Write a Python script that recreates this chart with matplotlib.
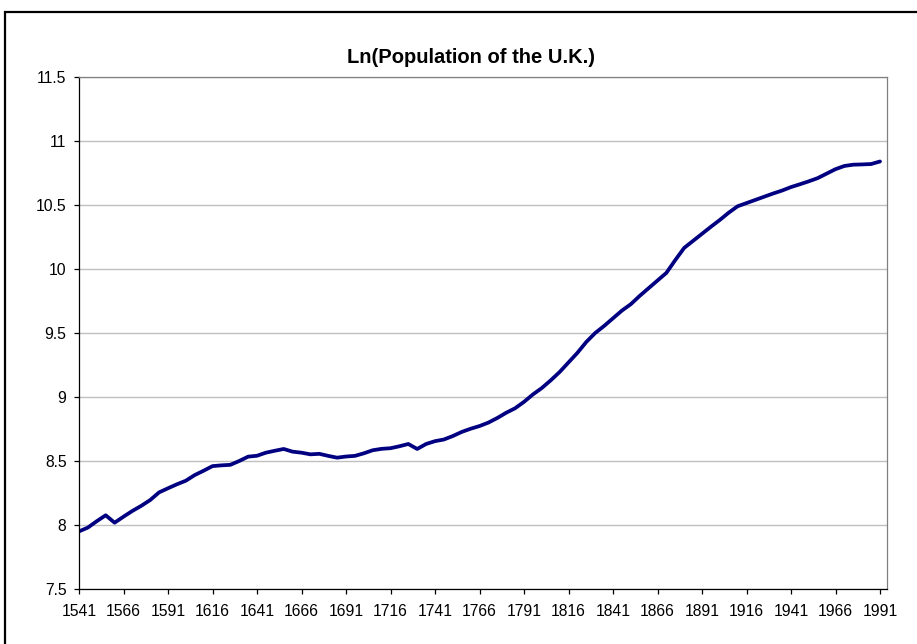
import matplotlib
matplotlib.use('Agg')
import matplotlib.pyplot as plt
import numpy as np
from matplotlib.patches import Rectangle

plt.rcParams['font.family'] = ['Liberation Sans', 'DejaVu Sans']

# five-year categories, 1541 .. 1991
years = list(range(1541, 1992, 5))
ln_pop = [
    7.95, 7.98, 8.03, 8.076, 8.018, 8.065, 8.11, 8.15, 8.195, 8.255,
    8.287, 8.318, 8.346, 8.39, 8.424, 8.46, 8.466, 8.47, 8.50, 8.534,
    8.541, 8.565, 8.58, 8.594, 8.573, 8.565, 8.552, 8.556, 8.54, 8.526,
    8.535, 8.54, 8.56, 8.584, 8.595, 8.60, 8.615, 8.633, 8.594, 8.633,
    8.655, 8.668, 8.695, 8.727, 8.752, 8.773, 8.80, 8.836, 8.877, 8.912,
    8.962, 9.02, 9.07, 9.13, 9.195, 9.27, 9.345, 9.43, 9.50, 9.555,
    9.615, 9.675, 9.725, 9.79, 9.85, 9.91, 9.97, 10.07, 10.165, 10.22,
    10.275, 10.33, 10.383, 10.44, 10.49, 10.515, 10.54, 10.565, 10.59, 10.613,
    10.64, 10.662, 10.685, 10.71, 10.745, 10.78, 10.805, 10.815, 10.817, 10.82,
    10.84,
]
x_ticks = years[::5]
y_ticks = [7.5, 8, 8.5, 9, 9.5, 10, 10.5, 11, 11.5]
title = 'Ln(Population of the U.K.)'

fig = plt.figure(figsize=(9.17, 6.44), dpi=100)
W, H = 917, 644

# chart area frame (extends past the picture on the right and bottom)
fig.patches.append(Rectangle((5 / W, -0.1), 1.2, 1 - 12 / H + 0.1,
                             transform=fig.transFigure, fill=False,
                             edgecolor='black', linewidth=1.6))

ax = fig.add_axes([79 / W, 1 - 589 / H, (887 - 79) / W, (589 - 77) / H])
ax.plot(years, ln_pop, color='#000080', linewidth=2.7, solid_capstyle='round',
        solid_joinstyle='round')

ax.set_ylim(7.5, 11.5)
ax.set_xlim(1541, 1541 + (887 - 79) / 1.78)
ax.set_yticks(y_ticks)
ax.set_yticklabels([f'{v:g}' for v in y_ticks])
ax.set_xticks(x_ticks)
ax.set_xticklabels([str(v) for v in x_ticks])

ax.grid(axis='y', color='#c0c0c0', linewidth=1.0)
ax.set_axisbelow(True)
ax.tick_params(axis='both', direction='out', length=3.5, width=0.9,
               labelsize=11.3, colors='#000000')
ax.tick_params(axis='x', pad=7.5)
ax.tick_params(axis='y', pad=5.5)

for side in ('left', 'bottom'):
    ax.spines[side].set_color('#000000')
    ax.spines[side].set_linewidth(0.9)
for side in ('top', 'right'):
    ax.spines[side].set_color('#808080')
    ax.spines[side].set_linewidth(0.9)

fig.text(471 / W, 1 - 63 / H, title, ha='center', va='baseline',
         fontsize=14.5, fontweight='bold')

fig.savefig('out.png', dpi=100)
